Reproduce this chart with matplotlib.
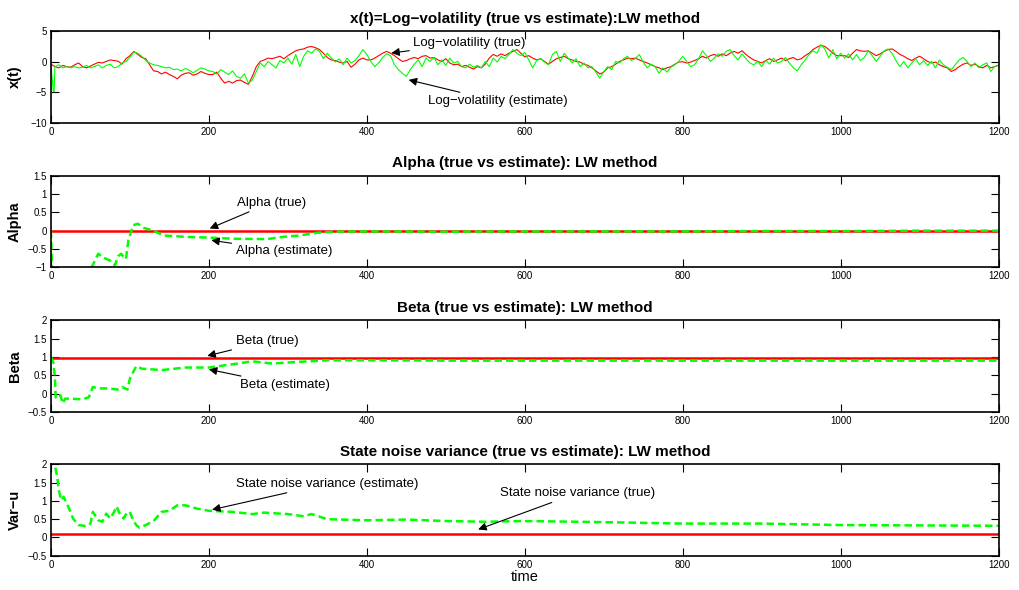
import numpy as np
import matplotlib
matplotlib.use("Agg")
import matplotlib.pyplot as plt

plt.rcParams['font.family'] = ['Liberation Sans', 'DejaVu Sans']

# time axis of the sampled log-volatility paths
t_true = list(range(0, 1201, 5))
x_true = [
    -0.4, -0.8, -1.0, -0.6, -0.8, -0.9, -0.5, -0.2, -0.8, -1.0, -0.7, -0.4, -0.1, -0.2, 0.05, 0.3, 0.2, 0.1, -0.4, 0.5,
    1.0, 1.7, 1.2, 0.7, 0.5, -0.5, -1.5, -1.6, -2.0, -1.7, -2.1, -2.4, -2.8, -2.2, -1.9, -1.8, -2.2, -2.0, -1.6, -1.9, -2.1,
    -2.1, -1.7, -2.7, -3.5, -3.2, -3.5, -3.1, -3.0, -3.4, -3.7, -2.4, -0.8, 0.05, 0.3, 0.6, 0.5, 0.7, 0.9, 0.5, 1.0,
    1.4, 1.8, 2.0, 2.1, 2.4, 2.5, 2.3, 2.0, 1.4, 0.7, 0.3, 0.2, -0.05, -0.2, 0.05, -0.9, -0.4, 0.3, 0.6, 0.3,
    0.3, 0.6, 1.0, 1.4, 1.7, 1.4, 1.0, 0.5, 0.05, 0.2, 0.5, 0.7, 0.5, 0.9, 1.0, 0.6, 0.7, 0.3, 0.05, 0.5,
    -0.2, -0.5, -0.4, -0.8, -0.6, -0.9, -1.2, -0.8, -1.0, -0.4, 0.6, 1.2, 0.9, 1.3, 1.0, 1.4, 1.7, 2.0, 1.4, 0.8,
    1.0, 0.6, 0.3, 0.5, 0.05, -0.4, 0.05, 0.5, 0.7, 0.9, 0.5, 0.3, 0.05, -0.05, -0.4, -0.6, -1.0, -1.5, -2.0, -1.7,
    -1.0, -0.8, -0.4, 0.05, 0.3, 0.6, 0.5, 0.6, 0.3, 0.05, -0.2, -0.5, -0.8, -1.0, -1.3, -1.0, -0.8, -0.4, -0.05, 0.0,
    -0.2, -0.05, 0.2, 0.5, 0.9, 0.6, 1.0, 1.2, 0.9, 1.3, 1.0, 1.4, 1.7, 1.4, 1.8, 1.2, 0.7, 0.3, 0.05, -0.2,
    0.2, 0.5, 0.05, 0.3, 0.6, 0.2, 0.5, 0.7, 0.3, 0.5, 1.0, 1.4, 2.0, 2.4, 2.7, 2.5, 2.0, 1.4, 1.0, 1.0,
    1.0, 0.7, 1.4, 2.0, 1.8, 1.7, 1.8, 1.4, 1.0, 1.3, 1.7, 2.0, 2.1, 1.7, 1.2, 0.9, 0.5, 0.2, 0.6, 0.9,
    0.5, 0.05, -0.2, -0.05, -0.5, -0.8, -1.0, -1.6, -1.3, -0.8, -0.4, -0.2, -0.6, -0.4, -0.8, -1.0, -0.6, -1.0, -0.8, -0.6,
]

t_est = [0, 3, 4] + list(range(5, 1201, 5))
x_est = [
    -0.5, -4.9, -4.9,
    -0.8, -0.5, -1.0, -0.8, -1.0, -0.8, -1.0, -0.9, -0.6, -1.0, -0.8, -0.5, -1.0, -0.6, -0.4, -1.0, -0.8, -0.2, 0.05, 0.7,
    1.6, 1.4, 0.9, 0.2, -0.2, -0.5, -0.6, -0.8, -1.0, -0.9, -1.3, -1.2, -1.5, -1.1, -1.4, -1.8, -1.4, -1.0, -1.2, -1.5,
    -1.6, -2.0, -1.3, -1.7, -2.1, -1.5, -2.4, -2.7, -2.0, -3.5, -3.0, -1.6, -0.2, -0.8, 0.05, -0.5, -1.0, 0.2, -0.2, 0.6,
    -0.4, 1.2, -0.8, 0.9, 1.8, 1.4, 2.1, 1.7, 0.5, 1.4, 0.6, -0.05, 0.5, -0.5, 0.6, -0.2, 0.2, 1.0, 2.0, 1.2,
    0.05, -0.8, -0.2, 0.7, 1.3, 1.0, -0.5, -1.3, -1.9, -2.4, -1.3, -0.4, 0.3, -0.8, 0.6, 0.05, 0.7, -0.5, 0.3, -0.6,
    0.6, -0.2, 0.05, -0.8, -1.0, -0.4, -0.9, -0.6, -1.0, 0.05, -0.8, 0.6, -0.05, 0.9, 0.5, 1.2, 2.0, 1.4, 1.0, 1.5,
    0.3, -1.0, 0.2, 0.5, -0.05, -0.5, 1.2, 1.7, 0.05, 1.4, 0.6, -0.2, 0.5, -0.8, -0.2, -1.0, -0.8, -1.7, -2.7, -1.6,
    -0.8, -1.3, 0.05, -0.2, 0.5, 0.9, 0.2, 0.5, 1.2, -0.05, -1.0, -0.4, -0.8, -1.9, -1.0, -1.7, -0.9, -0.5, 0.05, 0.9,
    0.05, -0.8, -0.5, 0.5, 1.8, 1.0, 0.05, 0.6, 1.3, 0.9, 1.7, 2.0, 1.0, 0.3, 1.3, 0.5, -0.2, -0.5, 0.05, -0.8,
    0.2, -0.4, 0.6, -0.2, 0.05, 0.7, -0.2, -1.0, -1.5, -0.5, 0.3, 1.2, 1.8, 1.4, 2.8, 2.1, 0.6, 2.0, 0.5, 1.4,
    0.6, 1.3, 0.3, 1.2, 0.2, 0.7, 1.8, 1.0, 0.05, 0.9, 1.8, 2.1, 1.4, 0.2, -0.8, 0.05, -1.0, -0.2, 0.5, -0.5,
    0.2, -0.6, 0.05, -1.0, 0.3, -0.5, -0.9, -1.3, -0.5, 0.3, 0.7, 0.05, -0.8, -0.2, -1.0, -0.5, -0.2, -1.6, -0.8, -0.5,
]

# parameter estimates (Liu-West filter) and true values
alpha_true = 0.0
alpha_t = [0, 2, 10, 30, 48, 52, 56, 60, 65, 70, 75, 81, 85, 89, 93, 95, 98, 104, 110, 117,
           130, 142, 172, 201, 231, 273, 294, 315, 336, 357, 400, 500, 600, 700, 800, 900, 1000, 1100, 1200]
alpha_est = [0.0, -1.5, -1.6, -1.5, -1.2, -0.98, -0.8, -0.63, -0.72, -0.77, -0.82, -0.95, -0.7, -0.63, -0.75, -0.77,
             -0.27, 0.15, 0.19, 0.08, 0.0, -0.13, -0.17, -0.19, -0.22, -0.23, -0.17, -0.13, -0.06, -0.03,
             -0.02, -0.03, -0.02, -0.02, -0.02, -0.01, -0.01, 0.0, 0.0]

beta_true = 0.98
beta_t = [0, 3, 5, 6, 8, 12, 15, 18, 25, 40, 48, 53, 60, 70, 85, 90, 97, 100, 108, 115,
          140, 170, 200, 230, 255, 280, 310, 350, 400, 500, 600, 700, 800, 900, 1000, 1100, 1200]
beta_est = [1.0, 0.86, 0.45, -0.1, -0.14, -0.05, -0.27, -0.14, -0.14, -0.16, -0.1, 0.18, 0.14, 0.14, 0.11, 0.18,
            0.11, 0.41, 0.75, 0.68, 0.64, 0.71, 0.71, 0.8, 0.88, 0.82, 0.86, 0.91, 0.91, 0.9,
            0.9, 0.9, 0.9, 0.9, 0.9, 0.9, 0.9]

var_true = 0.1
var_t = [0, 5, 8, 10, 13, 16, 20, 23, 28, 35, 45, 50, 53, 60, 65, 70, 75, 80, 83, 88,
         92, 96, 100, 104, 108, 112, 120, 130, 140, 150, 160, 170, 185, 200, 230, 255, 270, 300, 320, 330,
         350, 400, 450, 500, 550, 600, 700, 800, 900, 1000, 1100, 1200]
var_est = [2.2, 1.97, 1.65, 1.29, 1.02, 1.11, 0.93, 0.79, 0.52, 0.34, 0.31, 0.38, 0.7, 0.47, 0.43, 0.65, 0.52, 0.7,
           0.85, 0.61, 0.52, 0.67, 0.7, 0.47, 0.34, 0.27, 0.34, 0.45, 0.7, 0.73, 0.88, 0.88, 0.79, 0.73, 0.7,
           0.64, 0.68, 0.64, 0.58, 0.64, 0.5, 0.47, 0.49, 0.45, 0.43, 0.45, 0.42, 0.38, 0.38, 0.34, 0.33, 0.32]

titles = ['x(t)=Log\u2212volatility (true vs estimate):LW method',
          'Alpha (true vs estimate): LW method',
          'Beta (true vs estimate): LW method',
          'State noise variance (true vs estimate): LW method']
ylabels = ['x(t)', 'Alpha', 'Beta', 'Var\u2212u']
ylims = [(-10, 5), (-1, 1.5), (-0.5, 2), (-0.5, 2)]
yticks = [[-10, -5, 0, 5], [-1, -0.5, 0, 0.5, 1, 1.5], [-0.5, 0, 0.5, 1, 1.5, 2], [-0.5, 0, 0.5, 1, 1.5, 2]]

fig = plt.figure(figsize=(10.19, 5.9), dpi=100)
bottoms = [0.792, 0.547, 0.302, 0.058]
axes = [fig.add_axes([0.050, b, 0.930, 0.155]) for b in bottoms]

red = (1, 0, 0)
green = (0, 1, 0)

ax = axes[0]
ax.plot(t_true, x_true, color=red, lw=0.8)
ax.plot(t_est, x_est, color=green, lw=0.8)

axes[1].axhline(alpha_true, color=red, lw=1.8)
axes[1].plot(alpha_t, alpha_est, color=green, lw=1.8, dashes=(3.0, 1.6))
axes[2].axhline(beta_true, color=red, lw=1.8)
axes[2].plot(beta_t, beta_est, color=green, lw=1.8, dashes=(3.0, 1.6))
axes[3].axhline(var_true, color=red, lw=1.8)
axes[3].plot(var_t, var_est, color=green, lw=1.8, dashes=(3.0, 1.6))

for ax, title, yl, lim, yt in zip(axes, titles, ylabels, ylims, yticks):
    ax.set_xlim(0, 1200)
    ax.set_ylim(*lim)
    ax.set_xticks(range(0, 1201, 200))
    ax.set_yticks(yt)
    ax.set_yticklabels([('%g' % v).replace('-', '\u2212') for v in yt])
    ax.tick_params(direction='in', top=True, right=True, length=6, width=0.8,
                   labelsize=7, pad=3)
    for sp in ax.spines.values():
        sp.set_linewidth(1.2)
    ax.set_title(title, fontsize=11, fontweight='bold', pad=6)
    ax.set_ylabel(yl, fontsize=10.5, fontweight='bold')
    ax.yaxis.set_label_coords(-0.031, 0.5)

axes[3].set_xlabel('time', fontsize=10.5, labelpad=0)

arrow = dict(arrowstyle='-|>', color='k', lw=0.8, mutation_scale=12, shrinkA=1, shrinkB=0)
notes = [
    (0, 'Log\u2212volatility (true)', (431, 1.43), (459, 3.1)),
    (0, 'Log\u2212volatility (estimate)', (453, -2.97), (477, -6.5)),
    (1, 'Alpha (true)', (201, 0.06), (235, 0.77)),
    (1, 'Alpha (estimate)', (203, -0.26), (234, -0.56)),
    (2, 'Beta (true)', (198, 1.03), (234, 1.43)),
    (2, 'Beta (estimate)', (200, 0.66), (239, 0.23)),
    (3, 'State noise variance (estimate)', (204, 0.76), (234, 1.47)),
    (3, 'State noise variance (true)', (541, 0.22), (568, 1.21)),
]
for i, txt, xy, xytext in notes:
    axes[i].annotate(txt, xy=xy, xytext=xytext, fontsize=9.5, ha='left', va='center',
                     arrowprops=arrow)

fig.savefig('out.png', dpi=100)
